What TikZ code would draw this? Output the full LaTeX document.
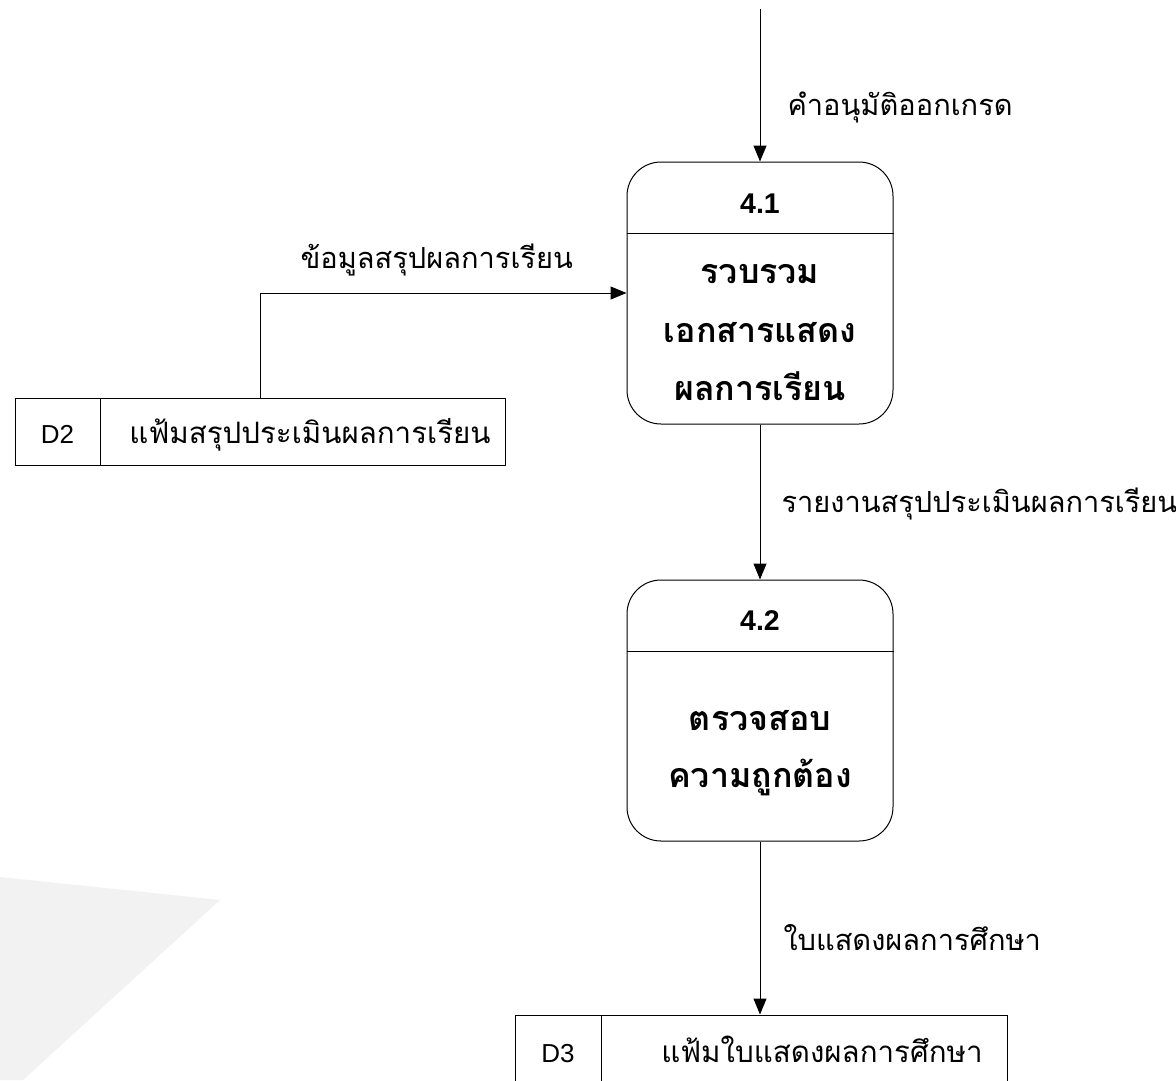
\documentclass[tikz,border=0pt]{standalone}
\usepackage{fontspec}
\setmainfont{Liberation Sans}
\newfontfamily\thai[Script=Thai]{Loma}
\usetikzlibrary{arrows.meta}
\begin{document}
\begin{tikzpicture}[x=1pt,y=-1pt,
  line width=1pt,
  flow/.style={draw=black, -{Triangle[length=16pt,width=13pt]}},
  procbox/.style={draw=black, rounded corners=34pt, minimum width=266pt, inner sep=0pt},
  storebox/.style={draw=black, inner sep=0pt},
  lbl/.style={font=\thai\fontsize{29}{34}\selectfont, anchor=base west, inner sep=0pt},
  ptitle/.style={font=\bfseries\fontsize{28.5}{33}\selectfont, anchor=base, inner sep=0pt},
  ptext/.style={font=\thai\bfseries\fontsize{34}{40}\selectfont, anchor=base, inner sep=0pt},
  sid/.style={font=\fontsize{26}{30}\selectfont, anchor=base, inner sep=0pt},
  stext/.style={font=\thai\fontsize{29.5}{34}\selectfont, anchor=base, inner sep=0pt}]
\useasboundingbox (0,0) rectangle (1176,1080);
\fill[white] (0,0) rectangle (1176,1080);
% faint grey panel at the lower left
\fill[black!5] (0,877) -- (220,900) -- (23,1080) -- (0,1080) -- cycle;

% processes
\node[procbox, minimum height=262pt] (p1) at (760,293) {};
\draw (p1.west |- 0,233) -- (p1.east |- 0,233);
\node[ptitle] (p1n) at (760,213) {4.1};
\node[ptext] (p1a) at (760,283) {รวบรวม};
\node[ptext] (p1b) at (760,342) {เอกสารแสดง};
\node[ptext] (p1c) at (760,400) {ผลการเรียน};

\node[procbox, minimum height=261pt] (p2) at (760,710.5) {};
\draw (p2.west |- 0,651) -- (p2.east |- 0,651);
\node[ptitle] (p2n) at (760,630) {4.2};
\node[ptext] (p2a) at (760,730) {ตรวจสอบ};
\node[ptext] (p2b) at (760,787) {ความถูกต้อง};

% data stores
\node[storebox, minimum width=490pt, minimum height=67pt] (d2) at (260,431.5) {};
\draw (100,398) -- (100,465);
\node[sid] (d2id) at (57.5,443) {D2};
\node[stext] (d2t) at (310,443) {แฟ้มสรุปประเมินผลการเรียน};

\node[storebox, minimum width=492pt, minimum height=70pt] (d3) at (761,1050) {};
\draw (601,1015) -- (601,1085);
\node[sid] (d3id) at (558,1062) {D3};
\node[stext] (d3t) at (822,1062) {แฟ้มใบแสดงผลการศึกษา};

% flows
\coordinate (src) at (760,9);
\draw[flow] (src) -- (p1.north);
\node[lbl] (l1) at (787,115) {คำอนุมัติออกเกรด};

\draw[flow] (d2.north) |- (p1.west);
\node[lbl] (l2) at (300,268) {ข้อมูลสรุปผลการเรียน};

\draw[flow] (p1.south) -- (p2.north);
\node[lbl] (l3) at (781,512) {รายงานสรุปประเมินผลการเรียน};

\draw[flow] (p2.south) -- (p2.south |- d3.north);
\node[lbl] (l4) at (783,950) {ใบแสดงผลการศึกษา};
\end{tikzpicture}
\end{document}
